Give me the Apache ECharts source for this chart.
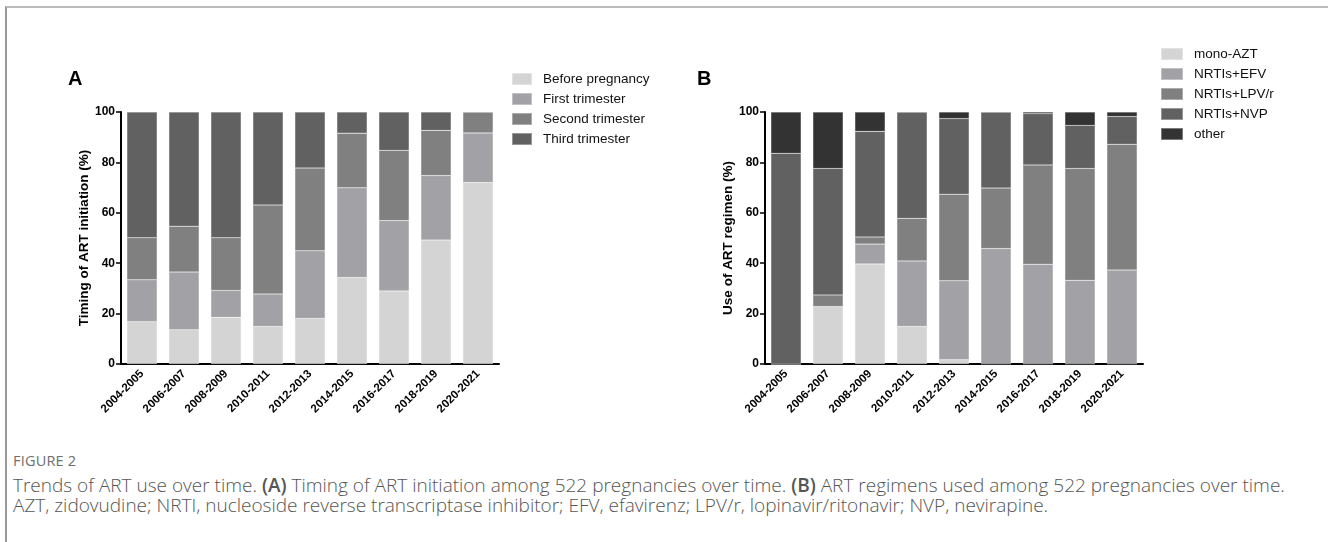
<!DOCTYPE html>
<html>
<head>
<meta charset="utf-8">
<script type="text/javascript" src="https://cdn.jsdelivr.net/npm/echarts@6/dist/echarts.min.js"></script>
<style>
    body { margin: 0; background: #fff; }
    #frame { position: absolute; left: 5px; top: 6px; width: 1330px; height: 540px; border-top: 2px solid #bbb; border-left: 2px solid #999; }
    #container { position: absolute; left: 0; top: 0; width: 1328px; height: 440px; }
    #caption { position: absolute; left: 13px; top: 451px; width: 1315px; font-family: "Open Sans", sans-serif; color: #6e6e6e; }
    #caption .fig { font-size: 14.5px; letter-spacing: 0.2px; line-height: 20px; margin-bottom: 4px; }
    #caption .txt { font-size: 19px; line-height: 20px; font-weight: 300; color: #555; white-space: nowrap; }
</style>
</head>
<body>
<div id="frame"></div>
<div id="container"></div>
<div id="caption">
    <div class="fig">FIGURE 2</div>
    <div class="txt">Trends of ART use over time. <b style="font-weight:600">(A)</b> Timing of ART initiation among 522 pregnancies over time. <b style="font-weight:600">(B)</b> ART regimens used among 522 pregnancies over time.<br>AZT, zidovudine; NRTI, nucleoside reverse transcriptase inhibitor; EFV, efavirenz; LPV/r, lopinavir/ritonavir; NVP, nevirapine.</div>
</div>
<script type="text/javascript">
// 时间段
var periods = ['2004-2005', '2006-2007', '2008-2009', '2010-2011', '2012-2013', '2014-2015', '2016-2017', '2018-2019', '2020-2021'];

// 图A：开始ART的时间 (%)
var beforePregnancy = [16.8, 13.6, 18.5, 14.9, 18.1, 34.3, 29.0, 49.2, 72.0];
var firstTrimester  = [16.6, 22.9, 10.7, 12.9, 26.8, 35.6, 27.9, 25.6, 19.7];
var secondTrimester = [16.7, 18.2, 20.9, 35.3, 32.9, 21.7, 27.9, 17.9, 8.3];
var thirdTrimester  = [49.9, 45.3, 49.9, 36.9, 22.2, 8.4, 15.2, 7.3, 0];

// 图B：ART方案 (%)
var monoAZT  = [0, 22.8, 39.7, 14.9, 1.7, 0, 0, 0, 0];
var nrtiEFV  = [0, 0, 7.9, 26.0, 31.3, 45.8, 39.6, 33.2, 37.3];
var nrtiLPV  = [0, 4.6, 2.8, 16.9, 34.4, 24.0, 39.4, 44.4, 49.9];
var nrtiNVP  = [83.6, 50.2, 41.9, 42.2, 30.0, 30.2, 20.3, 17.1, 11.0];
var other    = [16.4, 22.4, 7.7, 0, 2.6, 0, 0.7, 5.3, 1.8];

var namesA = ['Before pregnancy', 'First trimester', 'Second trimester', 'Third trimester'];
var namesB = ['mono-AZT', 'NRTIs+EFV', 'NRTIs+LPV/r', 'NRTIs+NVP', 'other'];
var yTicks = [0, 20, 40, 60, 80, 100];

var gray = ['#d4d4d4', '#a2a2a6', '#808080', '#616161', '#333333'];

window.onload = function () {
    var myChart = echarts.init(document.getElementById('container'));
    var font = 'Arial, "Liberation Sans", sans-serif';

    function xAxis(idx) {
        return {
            type: 'category', gridIndex: idx, data: periods,
            axisLine: { lineStyle: { color: '#000', width: 2 } },
            axisTick: { alignWithLabel: true, length: 6, lineStyle: { color: '#000', width: 1.5 } },
            axisLabel: { rotate: 45, margin: 8, color: '#000', fontWeight: 'bold', fontSize: 11.5, fontFamily: font }
        };
    }
    function yAxis(idx, name) {
        return {
            type: 'value', gridIndex: idx, min: yTicks[0], max: yTicks[yTicks.length - 1], interval: 20,
            name: name, nameLocation: 'middle', nameGap: 29,
            nameTextStyle: { color: '#000', fontWeight: 'bold', fontSize: 13.5, fontFamily: font },
            axisLine: { show: true, lineStyle: { color: '#000', width: 2 } },
            axisTick: { show: true, length: 5, lineStyle: { color: '#000', width: 1.5 } },
            axisLabel: { color: '#000', fontWeight: 'bold', fontSize: 12, margin: 6, fontFamily: font },
            splitLine: { show: false }
        };
    }
    function bar(name, data, idx, color) {
        return {
            name: name, type: 'bar', stack: 's' + idx, xAxisIndex: idx, yAxisIndex: idx,
            data: data, barCategoryGap: '28%',
            itemStyle: { color: color, borderColor: 'rgba(255,255,255,0.35)', borderWidth: 0.5 },
            emphasis: { disabled: true }
        };
    }

    var option = {
        animation: false,
        title: [
            { text: 'A', left: 63, top: 64, textStyle: { fontSize: 20, fontWeight: 'bold', color: '#000', fontFamily: font } },
            { text: 'B', left: 692, top: 64, textStyle: { fontSize: 20, fontWeight: 'bold', color: '#000', fontFamily: font } }
        ],
        legend: [
            {
                data: namesA, orient: 'vertical', left: 506, top: 67, itemWidth: 20, itemHeight: 12, itemGap: 6,
                icon: 'rect', selectedMode: false,
                textStyle: { fontSize: 13.5, color: '#111', fontFamily: font, padding: [0, 0, 0, 6] }
            },
            {
                data: namesB, orient: 'vertical', left: 1155, top: 42, itemWidth: 22, itemHeight: 12, itemGap: 6,
                icon: 'rect', selectedMode: false,
                textStyle: { fontSize: 13.5, color: '#111', fontFamily: font, padding: [0, 0, 0, 6] }
            }
        ],
        grid: [
            { left: 121, top: 112, width: 378, height: 252 },
            { left: 765, top: 112, width: 378, height: 252 }
        ],
        xAxis: [xAxis(0), xAxis(1)],
        yAxis: [yAxis(0, 'Timing of ART initiation (%)'), yAxis(1, 'Use of ART regimen (%)')],
        series: [
            bar(namesA[0], beforePregnancy, 0, gray[0]),
            bar(namesA[1], firstTrimester, 0, gray[1]),
            bar(namesA[2], secondTrimester, 0, gray[2]),
            bar(namesA[3], thirdTrimester, 0, gray[3]),
            bar(namesB[0], monoAZT, 1, gray[0]),
            bar(namesB[1], nrtiEFV, 1, gray[1]),
            bar(namesB[2], nrtiLPV, 1, gray[2]),
            bar(namesB[3], nrtiNVP, 1, gray[3]),
            bar(namesB[4], other, 1, gray[4])
        ]
    };
    myChart.setOption(option);
};
</script>
</body>
</html>
